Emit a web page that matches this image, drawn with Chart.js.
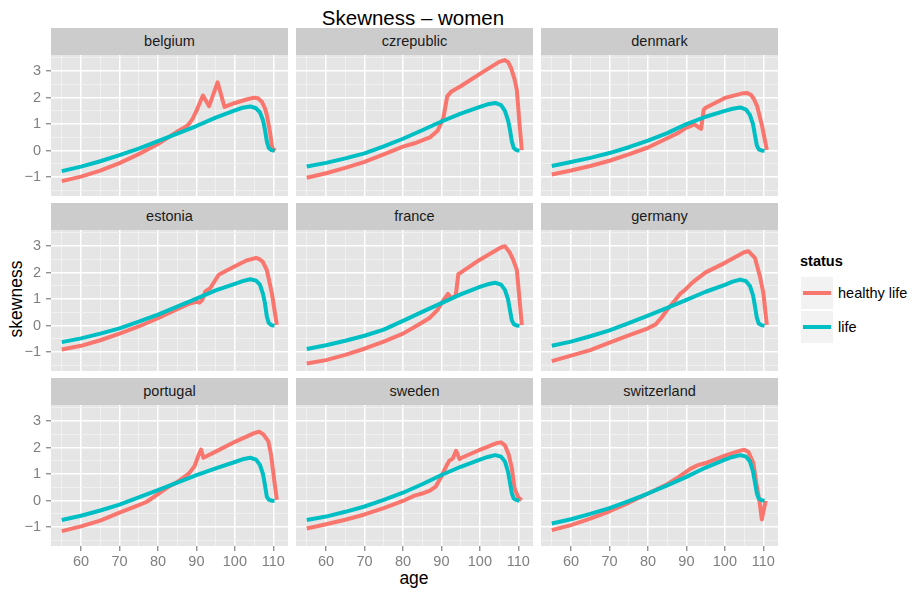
<!DOCTYPE html>
<html><head><meta charset="utf-8">
<script src="https://cdn.jsdelivr.net/npm/chart.js@4/dist/chart.umd.min.js"></script>
<style>
html,body{margin:0;padding:0;background:#fff;}
body{width:912px;height:597px;position:relative;overflow:hidden;font-family:"Liberation Sans",Arial,sans-serif;}
canvas{position:absolute;}
.t{position:absolute;white-space:nowrap;line-height:1;}
.strip{position:absolute;background:#CCCCCC;color:#1A1A1A;font-size:14.5px;text-align:center;height:27px;line-height:27px;}
.key{position:absolute;background:#F2F2F2;width:32px;height:32px;left:801px;}
.keyline{position:absolute;left:2px;width:28px;height:4px;top:14px;}
</style></head><body>
<div class="t" style="left:0;width:826px;text-align:center;top:7.6px;font-size:20.5px;color:#000;">Skewness – women</div>
<div class="t" style="left:0;width:828px;text-align:center;top:569.5px;font-size:17.5px;color:#000;">age</div>
<div class="t" style="left:17px;top:299px;font-size:17.5px;color:#000;transform:translate(-50%,-50%) rotate(-90deg);">skewness</div>
<div class="t" style="left:800px;top:254.4px;font-size:14.5px;font-weight:bold;color:#000;">status</div>
<div class="key" style="top:276.5px;"><div class="keyline" style="background:#F8766D;"></div></div>
<div class="key" style="top:311px;"><div class="keyline" style="background:#00BFC4;"></div></div>
<div class="t" style="left:838px;top:286px;font-size:14.5px;color:#000;">healthy life</div>
<div class="t" style="left:838px;top:320.4px;font-size:14.5px;color:#000;">life</div>
<script>
// ---- data ----
const countries = ['belgium','czrepublic','denmark','estonia','france','germany','portugal','sweden','switzerland'];
const seriesNames = ['healthy life','life'];
const seriesColors = ['#F8766D','#00BFC4'];
const xTickValues = [55,60,65,70,75,80,85,90,95,100,105,110];
const xTickLabels = ['60','70','80','90','100','110'];
const yTickValues = [-1.5,-1,-0.5,0,0.5,1,1.5,2,2.5,3,3.5];
const yTickLabels = ['\u22121','0','1','2','3'];

const lifeAges = [55,60,65,70,75,80,85,90,95,100,102,104,105.5,106.5,107.3,107.8,108.3,108.8,109.5,110.3];
const belgiumLife     = [-0.77,-0.60,-0.40,-0.17,0.08,0.36,0.64,0.93,1.25,1.52,1.62,1.67,1.60,1.45,1.15,0.80,0.35,0.10,0.02,0.00];
const czrepublicLife  = [-0.60,-0.46,-0.29,-0.10,0.16,0.45,0.77,1.10,1.40,1.65,1.75,1.80,1.72,1.50,1.15,0.80,0.35,0.10,0.02,0.00];
const denmarkLife     = [-0.58,-0.43,-0.27,-0.09,0.13,0.38,0.66,1.00,1.28,1.50,1.58,1.63,1.55,1.35,1.00,0.60,0.20,0.05,0.01,0.00];
const estoniaLife     = [-0.62,-0.48,-0.30,-0.10,0.15,0.42,0.72,1.02,1.33,1.58,1.68,1.75,1.70,1.55,1.20,0.85,0.35,0.10,0.02,0.00];
const franceLife      = [-0.88,-0.74,-0.57,-0.38,-0.15,0.18,0.52,0.85,1.18,1.46,1.56,1.62,1.55,1.35,1.00,0.60,0.20,0.06,0.01,0.00];
const germanyLife     = [-0.76,-0.60,-0.40,-0.18,0.10,0.38,0.67,0.97,1.28,1.54,1.66,1.74,1.68,1.50,1.15,0.75,0.30,0.08,0.02,0.00];
const portugalLife    = [-0.73,-0.57,-0.37,-0.15,0.12,0.40,0.68,0.96,1.22,1.46,1.56,1.62,1.55,1.35,1.00,0.60,0.15,0.04,0.00,0.00];
const swedenLife      = [-0.73,-0.60,-0.42,-0.22,0.03,0.30,0.62,0.97,1.28,1.55,1.65,1.72,1.66,1.48,1.10,0.70,0.28,0.08,0.02,0.00];
const switzerlandLife = [-0.86,-0.70,-0.50,-0.28,-0.02,0.27,0.58,0.90,1.25,1.55,1.65,1.72,1.66,1.48,1.10,0.70,0.28,0.08,0.02,0.00];

const belgiumHealthyAges = [55,60,65,70,75,80,83,85,87,88,89,90,91,91.7,93.3,95.5,97.3,100,103,105,106,107,107.8,108.3,109.1,109.7,110.5];
const belgiumHealthy     = [-1.15,-0.98,-0.75,-0.47,-0.13,0.25,0.53,0.72,0.88,1.0,1.2,1.5,1.85,2.08,1.68,2.58,1.65,1.8,1.93,2.0,1.98,1.85,1.6,1.35,0.72,0.1,0.0];
const czrepublicHealthyAges = [55,60,65,70,75,80,83,87,89,90.5,91.5,92.5,95,100,105,106.4,107.3,108.1,109,109.6,110.3,110.9];
const czrepublicHealthy     = [-1.02,-0.85,-0.65,-0.42,-0.14,0.15,0.28,0.5,0.75,1.23,2.05,2.22,2.43,2.9,3.35,3.42,3.35,3.12,2.7,2.3,1.0,0.02];
const denmarkHealthyAges = [55,60,65,70,75,80,85,88,89,90,91,92,93,93.8,94.5,95,100,104.8,105.8,106.8,107.5,108.4,109.6,110.9];
const denmarkHealthy     = [-0.9,-0.75,-0.58,-0.38,-0.14,0.12,0.47,0.68,0.78,0.87,0.92,1.0,0.9,0.82,1.55,1.62,1.99,2.17,2.18,2.1,1.96,1.67,0.97,0.03];
const estoniaHealthyAges = [55,60,65,70,75,80,85,88,90,90.8,91.5,92.3,93.6,95.8,97.5,100,103,105.5,106.5,107.3,108.3,109.6,110.9];
const estoniaHealthy     = [-0.9,-0.76,-0.55,-0.3,-0.03,0.28,0.62,0.82,0.9,0.87,0.97,1.29,1.42,1.92,2.05,2.24,2.46,2.56,2.5,2.4,2.1,1.23,0.03];
const franceHealthyAges = [55,60,65,70,75,80,83,85,87,89,90.5,91.7,92.5,93.7,94.4,95,100,105.3,106.5,107.8,108.6,109.6,110.9];
const franceHealthy     = [-1.43,-1.3,-1.1,-0.87,-0.6,-0.3,-0.05,0.12,0.3,0.6,0.95,1.2,1.05,1.12,1.95,2.0,2.49,2.94,3.0,2.75,2.5,2.11,0.02];
const germanyHealthyAges = [55,60,65,70,75,80,82,83.5,85,87,88.5,89.5,91,92,95,100,105,106.1,107.8,109.1,110,110.9];
const germanyHealthy     = [-1.34,-1.13,-0.92,-0.64,-0.37,-0.1,0.05,0.3,0.6,0.95,1.22,1.33,1.55,1.68,2.01,2.37,2.77,2.81,2.56,1.86,1.23,0.03];
const portugalHealthyAges = [55,60,65,70,75,77,80,83,85,88,89.5,90.5,91.2,91.8,95,100,105,106.3,107.4,108.7,109.4,110.2,110.9];
const portugalHealthy     = [-1.15,-0.97,-0.75,-0.45,-0.17,-0.05,0.25,0.55,0.7,1.02,1.3,1.7,1.93,1.62,1.85,2.22,2.55,2.6,2.5,2.24,1.73,0.8,0.03];
const swedenHealthyAges = [55,60,65,70,75,80,83,85,87,88.5,90,91,92,93,93.8,94.7,95,100,104.5,105.5,106.5,107.5,108.3,109,110,110.9];
const swedenHealthy     = [-1.05,-0.89,-0.72,-0.52,-0.28,-0.01,0.19,0.27,0.38,0.53,0.91,1.23,1.5,1.6,1.88,1.57,1.6,1.92,2.18,2.2,2.09,1.73,1.23,0.47,0.11,0.03];
const switzerlandHealthyAges = [55,60,65,70,75,80,85,88,90,91,92.8,95,100,104,105,106.1,107.4,108.1,109,109.6,110,110.6];
const switzerlandHealthy     = [-1.11,-0.92,-0.68,-0.4,-0.08,0.27,0.62,0.9,1.1,1.2,1.33,1.42,1.7,1.89,1.92,1.84,1.42,0.72,-0.04,-0.71,-0.42,-0.01];

const healthyAgesBy = {belgium:belgiumHealthyAges, czrepublic:czrepublicHealthyAges, denmark:denmarkHealthyAges, estonia:estoniaHealthyAges, france:franceHealthyAges, germany:germanyHealthyAges, portugal:portugalHealthyAges, sweden:swedenHealthyAges, switzerland:switzerlandHealthyAges};
const healthyBy = {belgium:belgiumHealthy, czrepublic:czrepublicHealthy, denmark:denmarkHealthy, estonia:estoniaHealthy, france:franceHealthy, germany:germanyHealthy, portugal:portugalHealthy, sweden:swedenHealthy, switzerland:switzerlandHealthy};
const lifeBy = {belgium:belgiumLife, czrepublic:czrepublicLife, denmark:denmarkLife, estonia:estoniaLife, france:franceLife, germany:germanyLife, portugal:portugalLife, sweden:swedenLife, switzerland:switzerlandLife};

// ---- layout ----
const FONT = "'Liberation Sans', Arial, sans-serif";
Chart.defaults.font.family = FONT;
const colLeft = [51, 296, 541];
const rowTop = [55, 230, 405];
const panelW = 237, panelH = 141, stripH = 27, leftAxisW = 51, bottomAxisH = 30;
const xMin = 52.2, xMax = 113.8, yMin = -1.71, yMax = 3.61;

const bgPlugin = {
  id: 'panelBg',
  beforeDraw(chart) {
    const a = chart.chartArea, ctx = chart.ctx;
    ctx.save(); ctx.fillStyle = '#E5E5E5';
    ctx.fillRect(a.left, a.top, a.right - a.left, a.bottom - a.top);
    ctx.restore();
  }
};
const isMajorX = v => Math.abs(v / 10 - Math.round(v / 10)) < 1e-6;
const isMajorY = v => Math.abs(v - Math.round(v)) < 1e-6;
const noPad = s => { s.paddingTop = 0; s.paddingBottom = 0; s.paddingLeft = 0; s.paddingRight = 0; };

countries.forEach((name, i) => {
  const col = i % 3, row = Math.floor(i / 3);
  const leftAxis = col === 0, bottomAxis = row === 2;
  const strip = document.createElement('div');
  strip.className = 'strip';
  strip.style.left = colLeft[col] + 'px';
  strip.style.top = (rowTop[row] - stripH) + 'px';
  strip.style.width = panelW + 'px';
  strip.textContent = name;
  document.body.appendChild(strip);

  const cv = document.createElement('canvas');
  const w = panelW + (leftAxis ? leftAxisW : 0);
  const h = panelH + (bottomAxis ? bottomAxisH : 0);
  cv.width = w; cv.height = h;
  cv.style.width = w + 'px'; cv.style.height = h + 'px';
  cv.style.left = (leftAxis ? 0 : colLeft[col]) + 'px';
  cv.style.top = rowTop[row] + 'px';
  document.body.appendChild(cv);

  const hA = healthyAgesBy[name], hV = healthyBy[name], lV = lifeBy[name];
  new Chart(cv, {
    type: 'line',
    data: {
      datasets: [
        { label: seriesNames[0], data: hA.map((a, k) => ({x: a, y: hV[k]})), borderColor: seriesColors[0],
          borderWidth: 4, pointRadius: 0, fill: false, tension: 0, order: 1, borderJoinStyle: 'round', borderCapStyle: 'butt' },
        { label: seriesNames[1], data: lifeAges.map((a, k) => ({x: a, y: lV[k]})), borderColor: seriesColors[1],
          borderWidth: 4, pointRadius: 0, fill: false, tension: 0, order: 0, borderJoinStyle: 'round', borderCapStyle: 'butt' }
      ]
    },
    options: {
      responsive: false, animation: false, devicePixelRatio: 1,
      layout: { padding: 0 },
      plugins: { legend: { display: false }, tooltip: { enabled: false } },
      scales: {
        x: {
          type: 'linear', min: xMin, max: xMax,
          afterBuildTicks: s => { s.ticks = xTickValues.map(v => ({value: v})); },
          afterFit: s => { s.height = bottomAxis ? bottomAxisH : 0; noPad(s); },
          border: { display: false },
          ticks: { display: bottomAxis, autoSkip: false, maxRotation: 0, minRotation: 0, color: '#7F7F7F',
                   font: { size: 14.5, family: FONT }, padding: 2,
                   callback: v => isMajorX(v) ? xTickLabels[Math.round((v - 60) / 10)] : '' },
          grid: { drawTicks: bottomAxis, tickLength: 5, tickWidth: 1.2,
                  color: c => isMajorX(c.tick.value) ? '#FFFFFF' : '#F2F2F2',
                  lineWidth: c => isMajorX(c.tick.value) ? 1.5 : 0.8,
                  tickColor: c => isMajorX(c.tick.value) ? '#7F7F7F' : 'rgba(0,0,0,0)' }
        },
        y: {
          type: 'linear', min: yMin, max: yMax,
          afterBuildTicks: s => { s.ticks = yTickValues.map(v => ({value: v})); },
          afterFit: s => { s.width = leftAxis ? leftAxisW : 0; noPad(s); },
          border: { display: false },
          ticks: { display: leftAxis, autoSkip: false, color: '#7F7F7F', font: { size: 14.5, family: FONT }, padding: 5,
                   callback: v => isMajorY(v) ? yTickLabels[Math.round(v) + 1] : '' },
          grid: { drawTicks: leftAxis, tickLength: 5, tickWidth: 1.2,
                  color: c => isMajorY(c.tick.value) ? '#FFFFFF' : '#F2F2F2',
                  lineWidth: c => isMajorY(c.tick.value) ? 1.5 : 0.8,
                  tickColor: c => isMajorY(c.tick.value) ? '#7F7F7F' : 'rgba(0,0,0,0)' }
        }
      }
    },
    plugins: [bgPlugin]
  });
});
</script>
</body></html>
